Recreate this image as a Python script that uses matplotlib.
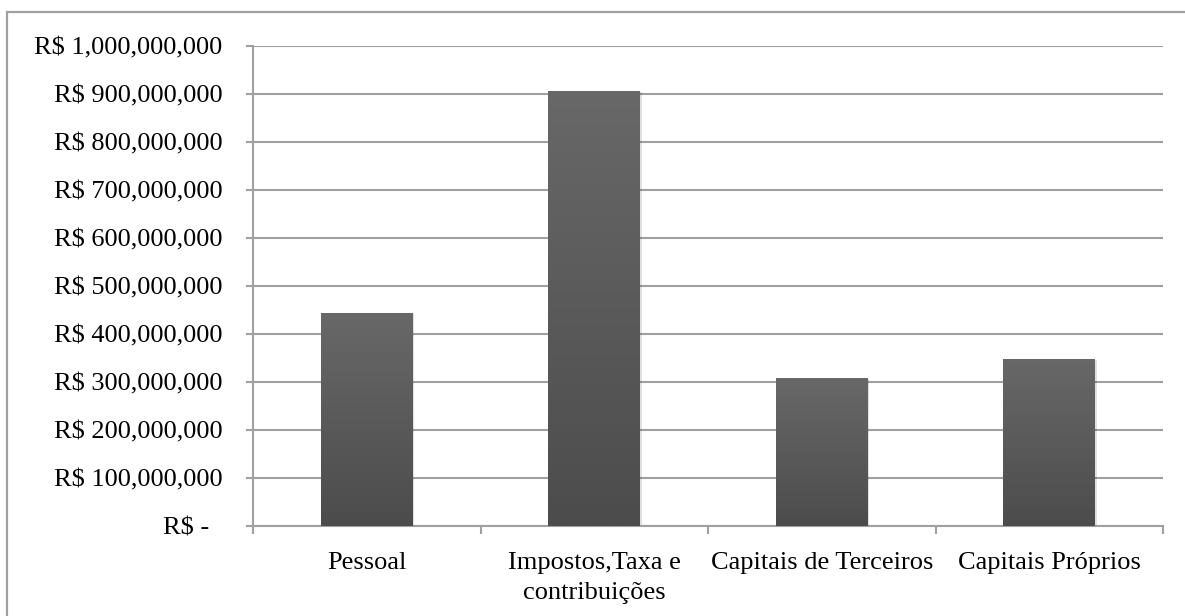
import matplotlib
matplotlib.use("Agg")
import matplotlib.pyplot as plt
import numpy as np
from matplotlib.patches import Rectangle
from matplotlib.colors import LinearSegmentedColormap

categories = ["Pessoal", "Impostos,Taxa e\ncontribuições", "Capitais de Terceiros", "Capitais Próprios"]
values = [444e6, 906e6, 308e6, 348e6]
yticks = [0, 100e6, 200e6, 300e6, 400e6, 500e6, 600e6, 700e6, 800e6, 900e6, 1000e6]
ytick_labels = ["R$ -  ", "R$ 100,000,000", "R$ 200,000,000", "R$ 300,000,000",
                "R$ 400,000,000", "R$ 500,000,000", "R$ 600,000,000", "R$ 700,000,000",
                "R$ 800,000,000", "R$ 900,000,000", "R$ 1,000,000,000"]

plt.rcParams['font.family'] = ['Liberation Serif', 'DejaVu Serif']
GRAY = "#a0a0a0"
FS = 19

fig = plt.figure(figsize=(11.85, 6.16), dpi=100)
ax = fig.add_axes([253/1185, 1-526/616, (1163-253)/1185, (526-46)/616])

x = np.arange(len(categories))
bars = ax.bar(x, values, width=0.404, color="#5a5a5a", zorder=3)

cmap = LinearSegmentedColormap.from_list("g", ["#4c4c4c", "#686868"])
grad = np.linspace(0, 1, 256).reshape(-1, 1)
for b in bars:
    x0, y0 = b.get_x(), b.get_y()
    w, h = b.get_width(), b.get_height()
    im = ax.imshow(grad, cmap=cmap, origin="lower", aspect="auto",
                   extent=(x0, x0 + w, y0, y0 + h), zorder=4, interpolation="bilinear")
    im.set_clip_path(b)
    # subtle shadow
    ax.add_patch(Rectangle((x0 + 0.006, y0), w, h - 2e6, facecolor="#000000",
                           alpha=0.12, zorder=2, linewidth=0))

ax.set_xlim(-0.5, len(categories) - 0.5)
ax.set_ylim(0, 1000e6)

ax.set_yticks(yticks)
ax.set_yticklabels(ytick_labels, fontsize=FS)
ax.yaxis.grid(True, color=GRAY, linewidth=1.5, zorder=0)
ax.set_axisbelow(True)

ax.set_xticks(np.arange(len(categories) + 1) - 0.5)
ax.set_xticklabels([""] * (len(categories) + 1))
ax.set_xticks(x, minor=True)
ax.set_xticklabels(categories, minor=True, fontsize=FS, linespacing=1.45)
ax.tick_params(axis="x", which="minor", length=0, pad=19)
ax.tick_params(axis="x", which="major", length=6, width=1.5, color=GRAY, direction="out")
ax.tick_params(axis="y", length=5, width=1.5, color=GRAY, pad=17)

for s in ["top", "right"]:
    ax.spines[s].set_visible(False)
for s in ["left", "bottom"]:
    ax.spines[s].set_color(GRAY)
    ax.spines[s].set_linewidth(1.5)

# outer border (top and left visible; extends beyond right/bottom)
fig.patches.append(Rectangle((7/1185, -0.1), 1.2, (616-12)/616 + 0.1, transform=fig.transFigure,
                             fill=False, edgecolor=GRAY, linewidth=1.6, zorder=0))

fig.savefig("out.png", dpi=100)
